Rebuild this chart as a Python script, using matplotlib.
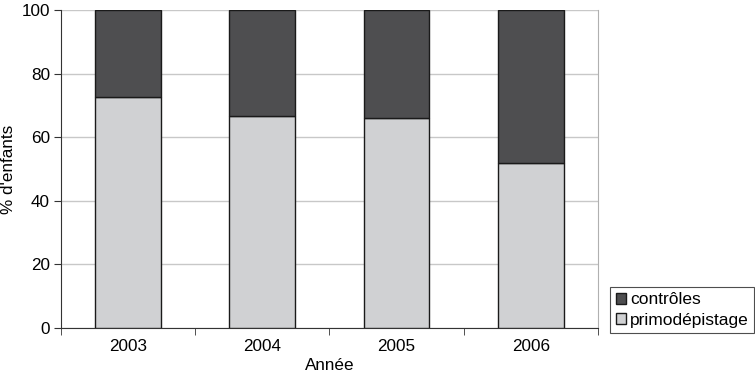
import matplotlib.pyplot as plt
import numpy as np

plt.rcParams['font.family'] = ['Liberation Sans', 'DejaVu Sans']

annees = ['2003', '2004', '2005', '2006']
primodepistage = [72.5, 66.6, 66.0, 51.8]
controles = [100 - v for v in primodepistage]

DARK = '#4e4e50'
LIGHT = '#d0d1d3'
FS = 12.3

fig = plt.figure(figsize=(7.55, 3.84), dpi=100)
ax = fig.add_axes([0.0808, 0.1458, 0.7112, 0.8282])

x = np.arange(len(annees))
b1 = ax.bar(x, primodepistage, width=0.49, color=LIGHT, edgecolor='#1a1a1a',
            linewidth=1.0, label='primodépistage', zorder=3)
b2 = ax.bar(x, controles, width=0.49, bottom=primodepistage, color=DARK,
            edgecolor='#1a1a1a', linewidth=1.0, label='contrôles', zorder=3)

ax.set_xlim(-0.5, len(annees) - 0.5)
ax.set_ylim(0, 100)
ax.set_yticks([0, 20, 40, 60, 80, 100])
ax.yaxis.grid(True, color='#c8c8c8', linewidth=1.0, zorder=0)

ax.set_xticks(x)
ax.set_xticklabels(annees)
ax.set_xticks(np.arange(-0.5, len(annees)), minor=True)
ax.tick_params(axis='x', which='major', length=0, pad=8, labelsize=FS)
ax.tick_params(axis='x', which='minor', length=5, direction='out', color='#333333')
ax.tick_params(axis='y', length=5, direction='out', color='#333333', labelsize=FS, pad=3)

ax.spines['top'].set_visible(False)
ax.spines['right'].set_color('#b0b0b0')
ax.spines['left'].set_color('#333333')
ax.spines['bottom'].set_color('#333333')

ax.set_xlabel('Année', fontsize=FS, labelpad=3)
ax.set_ylabel("% d'enfants", fontsize=FS)
ax.yaxis.set_label_coords(-0.083, 0.5)

leg = ax.legend([b2, b1], ['contrôles', 'primodépistage'],
                loc='lower left', bbox_to_anchor=(1.023, -0.015), fontsize=12.5,
                frameon=True, fancybox=False, edgecolor='#222222',
                handlelength=0.6, handleheight=0.6, handletextpad=0.25,
                borderpad=0.3, labelspacing=0.3, borderaxespad=0)
leg.get_frame().set_linewidth(0.8)

fig.savefig('out.png', dpi=100)
